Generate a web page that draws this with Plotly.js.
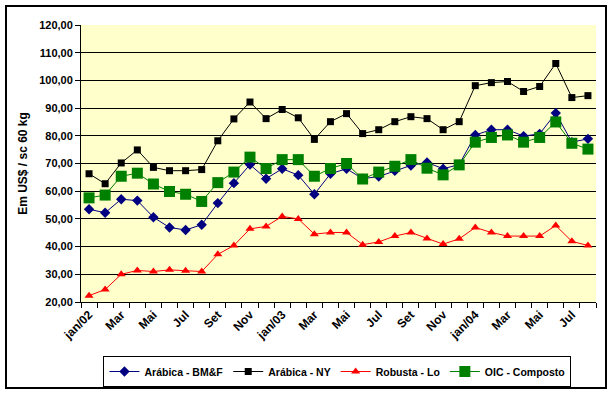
<!DOCTYPE html>
<html><head><meta charset="utf-8">
<script src="https://cdn.plot.ly/plotly-3.0.1.min.js"></script>
<style>html,body{margin:0;padding:0;background:#fff;}#wrap{position:relative;width:612px;height:393px;}#frame{position:absolute;left:5px;top:5px;width:598px;height:380px;border:2px solid #000;pointer-events:none;}</style>
</head><body>
<div id="wrap"><div id="chart" style="width:612px;height:393px;"></div><div id="frame"></div></div>
<script>
const months = ["jan/02","Fev","Mar","Abr","Mai","Jun","Jul","Ago","Set","Out","Nov","Dez",
"jan/03","Fev","Mar","Abr","Mai","Jun","Jul","Ago","Set","Out","Nov","Dez",
"jan/04","Fev","Mar","Abr","Mai","Jun","Jul","Ago"];
const arabicaBMF = [53.5,52.2,57.1,56.6,50.6,46.9,46.0,47.9,55.7,62.9,69.6,64.5,68.1,65.8,58.9,66.3,68.1,64.5,65.3,67.4,69.3,70.4,68.1,69.6,80.3,82.2,82.2,79.9,80.7,88.2,77.7,78.9];
const arabicaNY = [66.3,62.7,70.2,74.9,68.6,67.4,67.4,67.8,78.2,86.1,92.2,86.2,89.5,86.5,78.7,85.1,88.0,80.8,82.2,85.1,86.9,86.2,82.2,85.1,98.1,99.2,99.6,96.0,97.8,106.1,93.8,94.5];
const robustaLo = [22.3,24.5,30.0,31.4,31.0,31.6,31.3,31.0,37.2,40.4,46.4,47.3,50.9,50.0,44.5,45.1,45.1,40.7,41.7,43.8,45.1,42.9,40.9,42.8,46.9,45.1,43.8,43.8,43.8,47.6,41.9,40.4];
const oicComposto = [57.6,58.6,65.4,66.5,62.6,59.9,58.9,56.3,63.1,66.9,72.3,68.2,71.4,71.4,65.4,68.2,70.0,64.4,66.9,69.0,71.4,68.3,65.9,69.5,77.7,79.4,80.3,77.7,79.4,85.0,77.3,75.2];
const yTicks = [20,30,40,50,60,70,80,90,100,110,120];

const idx = months.map((m,i)=>i);
const tickIdx = idx.filter(i=>i%2===0);
const font = {family:"Liberation Sans, Arial, sans-serif", size:11, color:"#000", weight:"bold"};
const xfont = {family:"Liberation Sans, Arial, sans-serif", size:12, color:"#000", weight:"bold"};

const traces = [
 {x:idx,y:arabicaBMF,name:"Arábica - BM&F",mode:"lines+markers",line:{color:"#000080",width:1},marker:{symbol:"diamond",size:8,color:"#000080"}},
 {x:idx,y:arabicaNY,name:"Arábica - NY",mode:"lines+markers",line:{color:"#000000",width:1},marker:{symbol:"square",size:7,color:"#000000"}},
 {x:idx,y:robustaLo,name:"Robusta - Lo",mode:"lines+markers",line:{color:"#FF0000",width:1},marker:{symbol:"triangle-up",size:8,color:"#FF0000"}},
 {x:idx,y:oicComposto,name:"OIC - Composto",mode:"lines+markers",line:{color:"#008000",width:1},marker:{symbol:"square",size:11,color:"#008000"}}
];

const layout = {
 width:612,height:393,
 margin:{l:81,r:16,t:25,b:91,autoexpand:false},
 paper_bgcolor:"#FFFFFF",plot_bgcolor:"#FFFFCC",
 font:font,
 showlegend:true,
 legend:{orientation:"h",x:0.498,xanchor:"center",y:-0.195,yanchor:"top",bordercolor:"#000",borderwidth:1,bgcolor:"#fff",font:{family:"Liberation Sans, Arial, sans-serif", size:10.5, color:"#000", weight:"bold"},itemwidth:30,tracegroupgap:0},
 xaxis:{automargin:false,range:[-0.5,31.5],tickmode:"array",tickvals:tickIdx,ticktext:tickIdx.map(i=>months[i]),tickangle:-45,ticks:"",showgrid:false,zeroline:false,showline:true,linecolor:"#000",linewidth:1,tickfont:xfont,
   minor:{tickmode:"linear",tick0:-0.5,dtick:1,ticks:"outside",ticklen:5,tickcolor:"#000",showgrid:false}},
 yaxis:{automargin:false,range:[20,120],tickmode:"array",tickvals:yTicks,ticktext:yTicks.map(v=>v.toFixed(2).replace(".",",")),ticks:"outside",ticklen:5,tickcolor:"#000",showgrid:true,gridcolor:"#000",gridwidth:1,zeroline:false,showline:true,linecolor:"#000",linewidth:1,tickfont:font,
   title:{text:"Em US$ / sc 60 kg",font:{family:"Liberation Sans, Arial, sans-serif",size:12,color:"#000",weight:"bold"},standoff:8}}
};
Plotly.newPlot("chart",traces,layout,{displayModeBar:false,staticPlot:true});
</script>
</body></html>
